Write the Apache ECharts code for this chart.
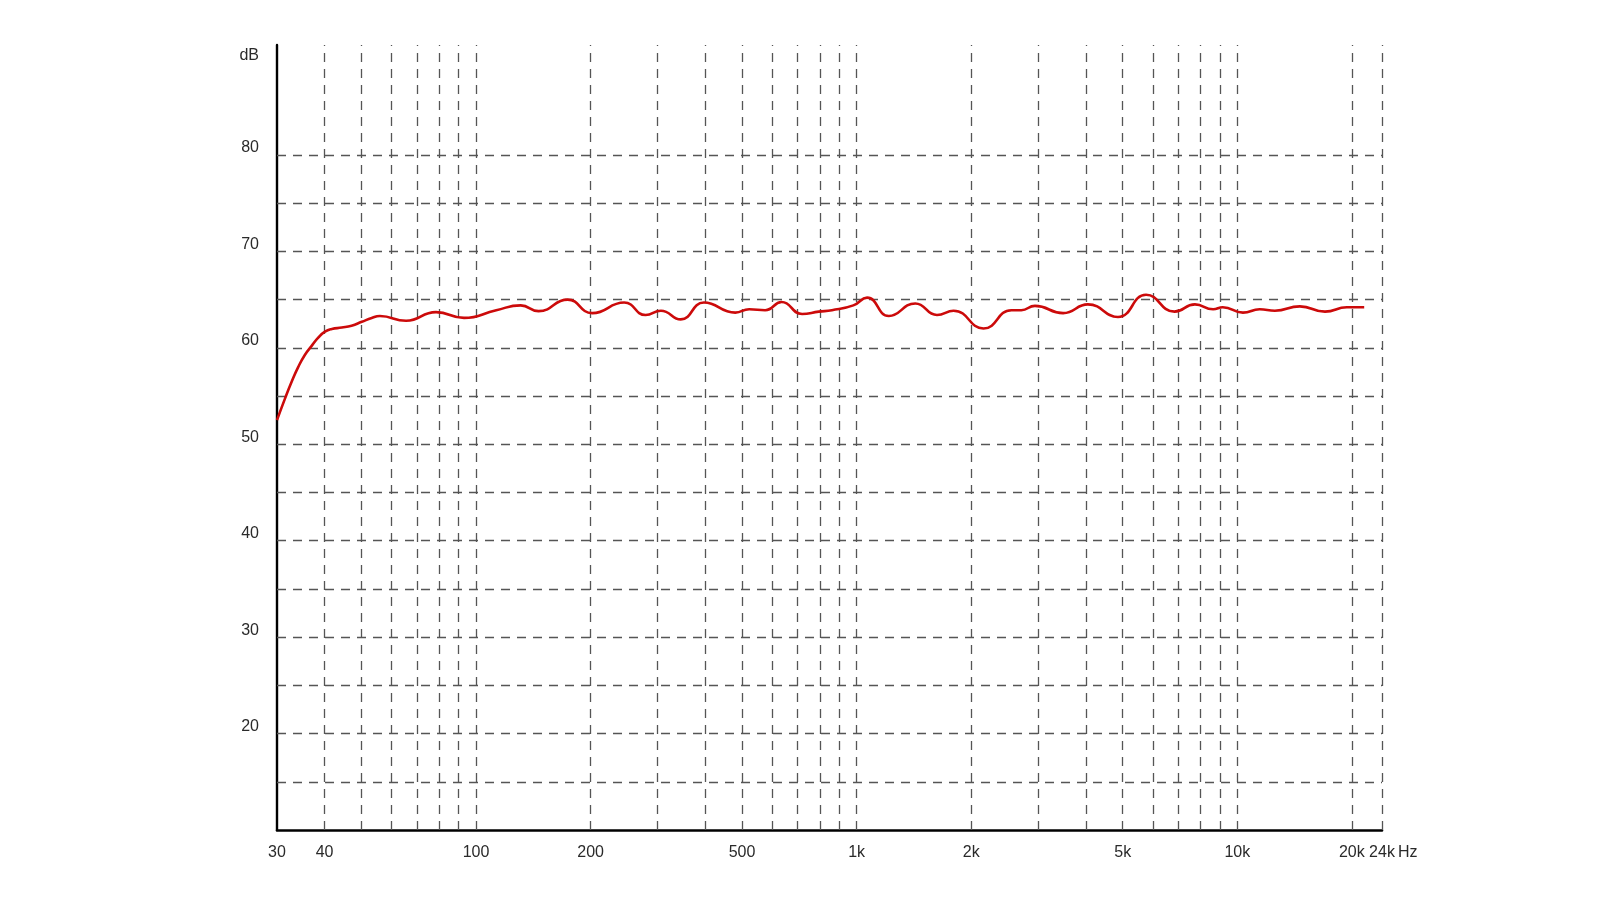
<!DOCTYPE html>
<html><head><meta charset="utf-8">
<script src="https://cdn.jsdelivr.net/npm/echarts@6/dist/echarts.min.js"></script>
<style>html,body{margin:0;padding:0;background:#fff}#c{width:1600px;height:900px}</style>
</head><body><div id="c"></div>
<script>
// Frequency response (Hz, dB)
const freqs = [30, 31.5, 32.8, 34.1, 35.5, 37.0, 38.5, 40.1, 41.8, 44.4, 47.1, 50.1, 53.2, 55.9, 65.5, 78.5, 93, 113, 131, 146, 174, 202, 245, 279, 306, 345, 397, 480, 522, 575, 635, 719, 795, 861, 980, 1065, 1215, 1426, 1626, 1797, 2154, 2550, 2708, 2940, 3486, 4050, 4857, 5760, 6840, 7740, 8640, 9160, 10350, 11450, 12550, 14600, 17000, 19400, 21550];
const levels = [52.5, 54.76, 56.5, 58.0, 59.25, 60.2, 61.05, 61.67, 61.95, 62.1, 62.3, 62.7, 63.1, 63.3, 62.8, 63.7, 63.1, 63.9, 64.4, 63.8, 65.0, 63.6, 64.7, 63.4, 63.85, 62.95, 64.7, 63.65, 64.0, 63.9, 64.75, 63.5, 63.75, 63.9, 64.4, 65.2, 63.3, 64.6, 63.4, 63.85, 62.0, 63.9, 63.9, 64.35, 63.6, 64.5, 63.2, 65.5, 63.75, 64.5, 64.0, 64.2, 63.65, 64.0, 63.85, 64.3, 63.75, 64.2, 64.2];

const xGridFreqs = [40, 50, 60, 70, 80, 90, 100, 200, 300, 400, 500, 600, 700, 800, 900, 1000, 2000, 3000, 4000, 5000, 6000, 7000, 8000, 9000, 10000, 20000, 24000];
const xTickValues = [30, 40, 100, 200, 500, 1000, 2000, 5000, 10000, 20000, 24000];
const xTickLabels = ['30', '40', '100', '200', '500', '1k', '2k', '5k', '10k', '20k', '24k'];
const yGridLevels = [15, 20, 25, 30, 35, 40, 45, 50, 55, 60, 65, 70, 75, 80];
const yLabelLevels = [20, 30, 40, 50, 60, 70, 80];
const xUnit = 'Hz';
const yUnit = 'dB';

const FONT = "'Liberation Sans Narrow', 'Liberation Sans', Arial, sans-serif";
const FS = 16;
const TXT = '#2a2a2a';
const gridStyle = { color: '#555', width: 1.3, type: [9, 7] };

const chart = echarts.init(document.getElementById('c'), null, { renderer: 'canvas' });

const gridMarks = [];
xGridFreqs.forEach(f => gridMarks.push({ xAxis: f, lineStyle: gridStyle, label: { show: false } }));
yGridLevels.forEach(v => gridMarks.push({ yAxis: v, lineStyle: gridStyle, label: { show: false } }));

const labelMarks = xTickValues.map((f, i) => ({
  xAxis: f,
  lineStyle: { color: 'rgba(255,255,255,0)', width: 1, type: 'solid' },
  label: {
    show: true, position: 'start', distance: 15, formatter: xTickLabels[i],
    fontFamily: FONT, fontSize: FS, color: TXT
  }
}));

chart.setOption({
  animation: false,
  backgroundColor: '#fff',
  grid: { left: 277, right: 218, top: 45, bottom: 70, containLabel: false },
  xAxis: {
    type: 'log', logBase: 10, min: 30, max: 24000,
    name: xUnit, nameLocation: 'end', nameGap: 16,
    nameTextStyle: { fontFamily: FONT, fontSize: FS, color: TXT, verticalAlign: 'top', lineHeight: 46 },
    axisLine: { show: true, onZero: false, lineStyle: { color: '#000', width: 2.6 } },
    axisTick: { show: false }, axisLabel: { show: false }, splitLine: { show: false }
  },
  yAxis: {
    type: 'value', min: 10, max: 91.4, interval: 10,
    name: yUnit, nameLocation: 'end', nameGap: -3,
    nameTextStyle: { fontFamily: FONT, fontSize: FS, color: TXT, align: 'right', verticalAlign: 'top', padding: [0, 18, 0, 0] },
    axisLine: { show: true, onZero: false, lineStyle: { color: '#000', width: 2.4 } },
    axisTick: { show: false },
    splitLine: { show: false },
    axisLabel: {
      margin: 18, fontFamily: FONT, fontSize: FS, color: TXT,
      verticalAlign: 'bottom', lineHeight: 14,
      formatter: v => yLabelLevels.indexOf(v) >= 0 ? String(v) : ''
    }
  },
  series: [
    {
      type: 'line', data: [], silent: true, z: 1, clip: false,
      markLine: { silent: true, symbol: 'none', animation: false, data: gridMarks }
    },
    {
      type: 'line', data: [], silent: true, z: 2, clip: false,
      markLine: { silent: true, symbol: 'none', animation: false, data: labelMarks }
    },
    {
      type: 'line', z: 5, silent: true,
      data: freqs.map((f, i) => [f, levels[i]]),
      showSymbol: false, smooth: 0.5,
      lineStyle: { color: '#cc0a0a', width: 2.6 }
    }
  ]
});
</script></body></html>
